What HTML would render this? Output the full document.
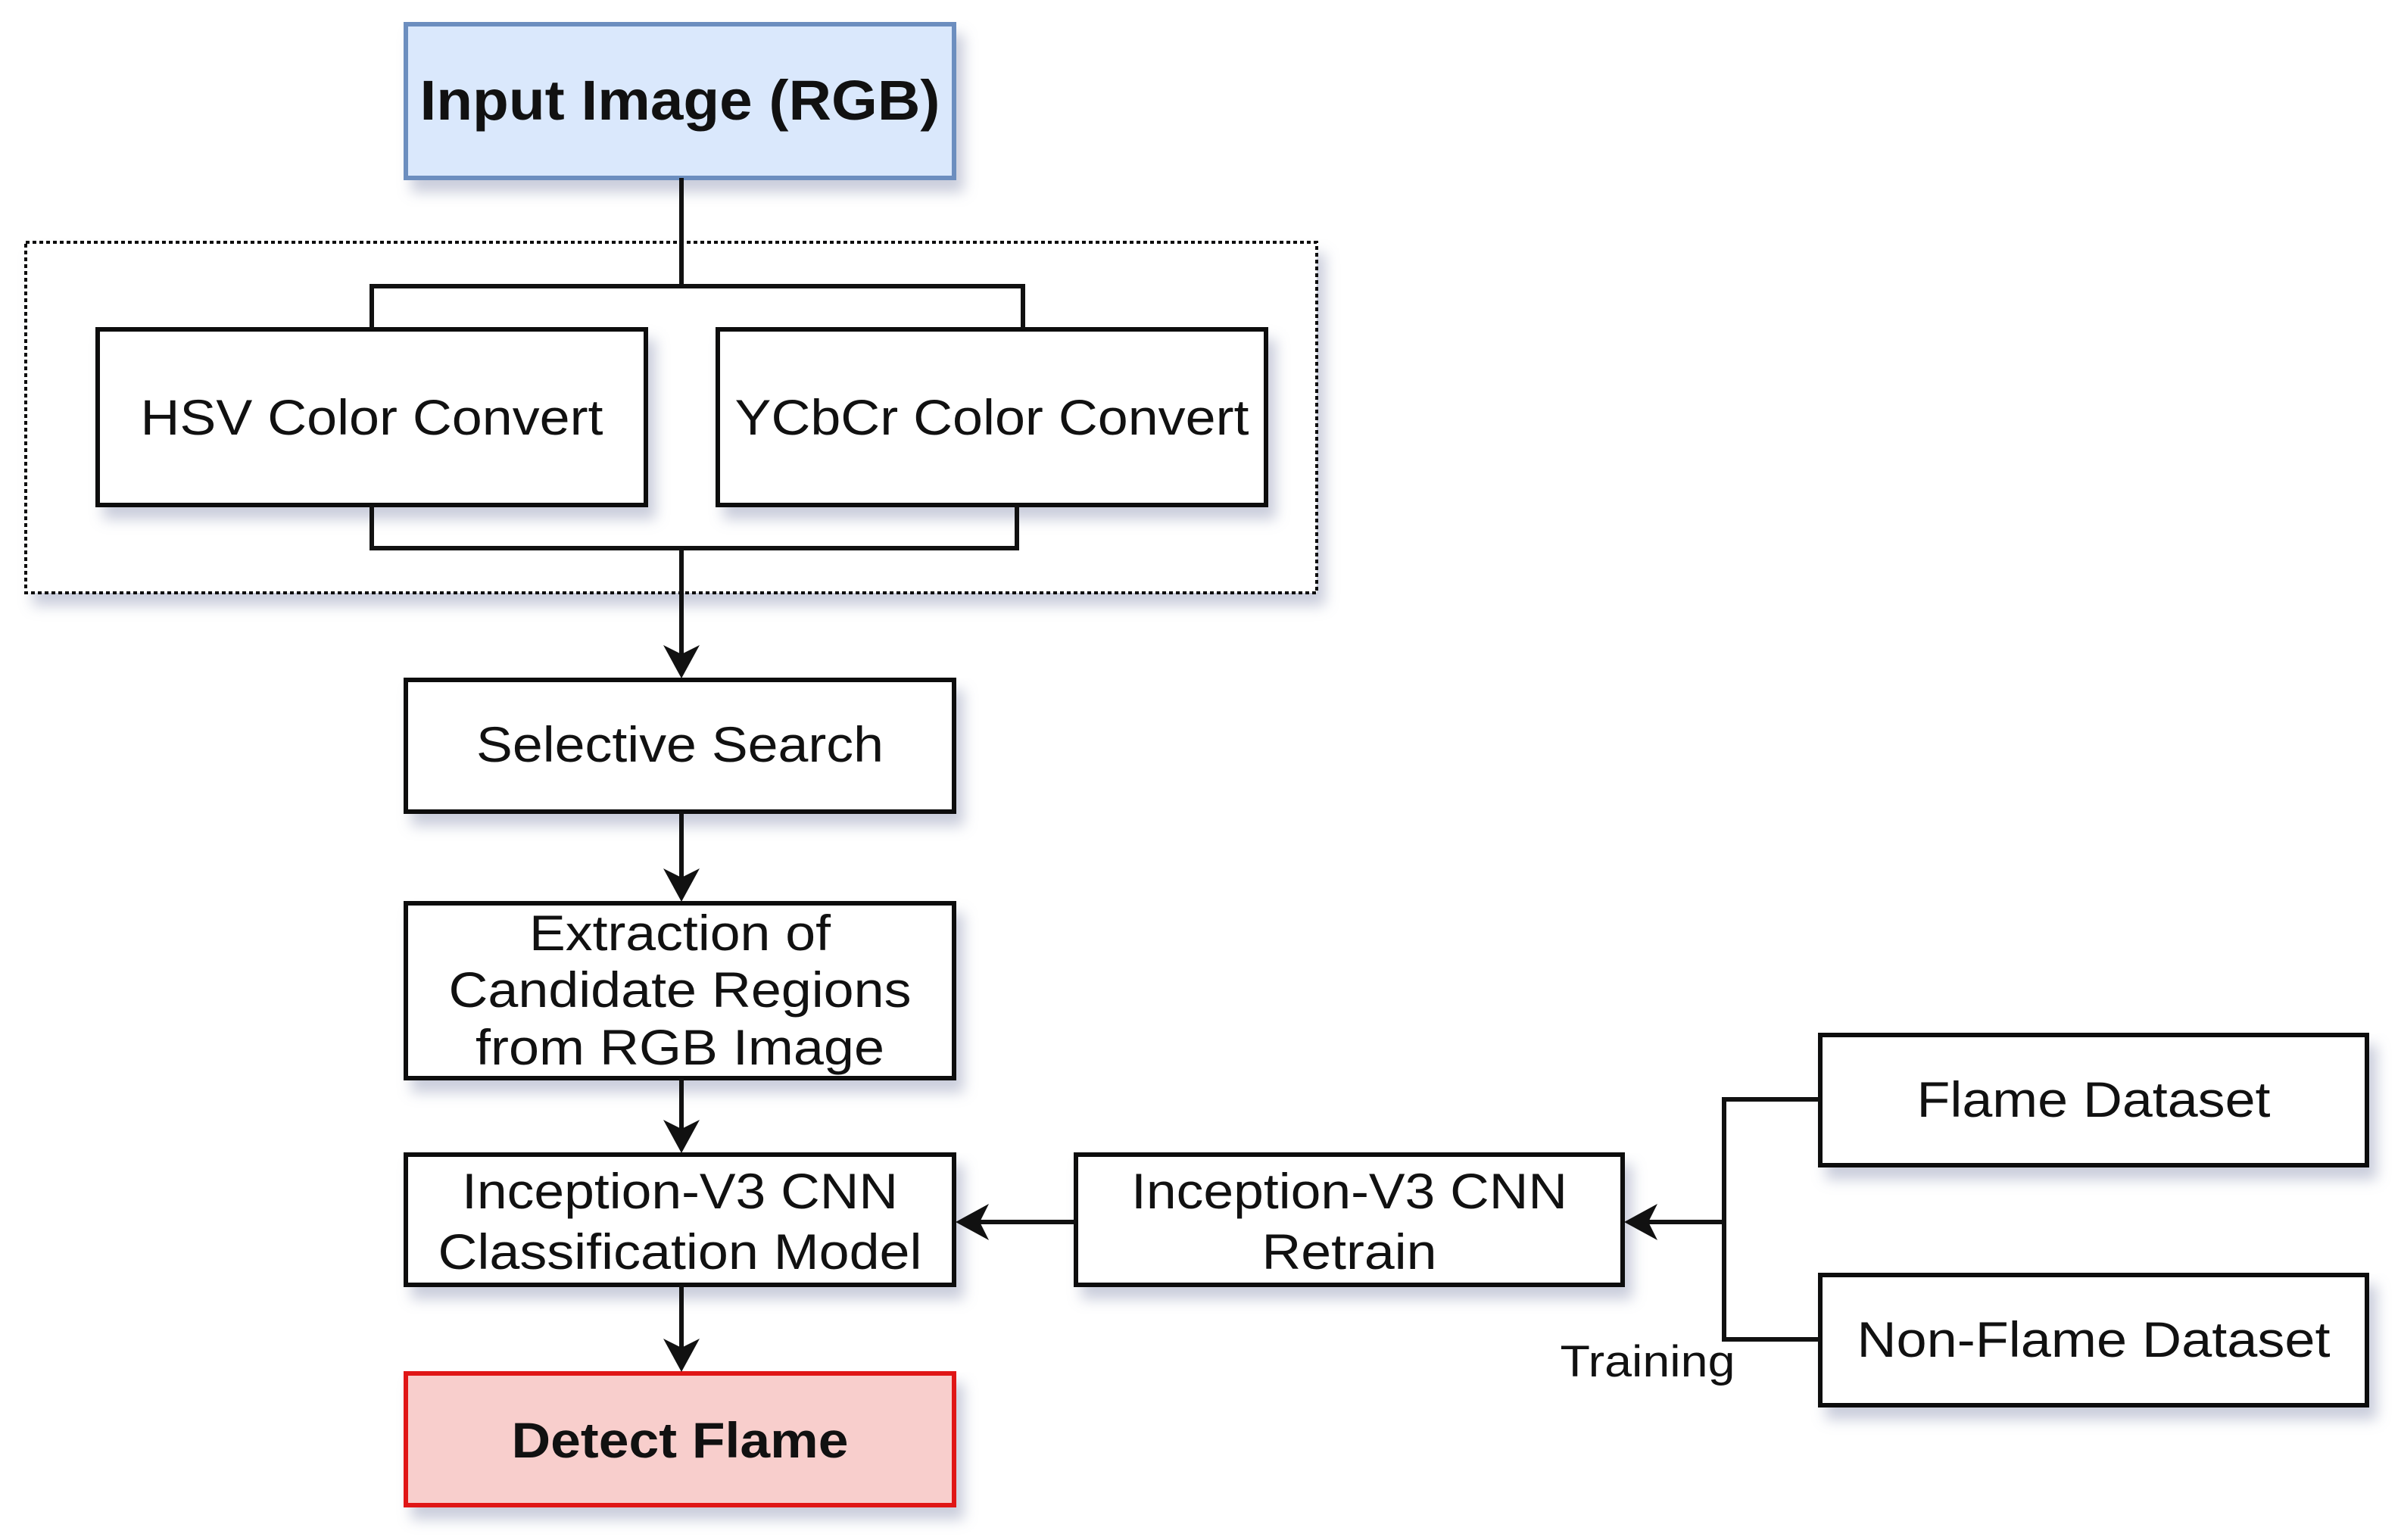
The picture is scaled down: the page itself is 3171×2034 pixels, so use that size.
<!DOCTYPE html>
<html><head><meta charset="utf-8"><style>
html,body{margin:0;padding:0;background:#fff;}
svg{display:block;}
text{font-family:"Liberation Sans",Arial,sans-serif;fill:#111;}
</style></head><body>
<svg width="3171" height="2034" viewBox="0 0 3171 2034" xmlns="http://www.w3.org/2000/svg">
<defs>
<filter id="sh" x="-10%" y="-10%" width="130%" height="140%">
<feGaussianBlur in="SourceAlpha" stdDeviation="9"/>
<feOffset dx="10" dy="16" result="b"/>
<feFlood flood-color="#8890b0" flood-opacity="0.45"/>
<feComposite in2="b" operator="in"/>
<feMerge><feMergeNode/><feMergeNode in="SourceGraphic"/></feMerge>
</filter>
</defs>
<g stroke="#111" stroke-width="6" fill="#fff">
<rect x="34" y="320" width="1705" height="463" stroke-dasharray="5,4" stroke-width="4" filter="url(#sh)"/>
<rect x="536" y="32" width="724" height="203" fill="#dae8fc" stroke="#6c8ebf" filter="url(#sh)"/>
<rect x="129" y="435" width="724" height="232" filter="url(#sh)"/>
<rect x="948" y="435" width="724" height="232" filter="url(#sh)"/>
<rect x="536" y="898" width="724" height="174" filter="url(#sh)"/>
<rect x="536" y="1193" width="724" height="231" filter="url(#sh)"/>
<rect x="536" y="1525" width="724" height="172" filter="url(#sh)"/>
<rect x="536" y="1814" width="724" height="174" fill="#f8cecc" stroke="#e01818" filter="url(#sh)"/>
<rect x="1421" y="1525" width="722" height="172" filter="url(#sh)"/>
<rect x="2404" y="1367" width="722" height="172" filter="url(#sh)"/>
<rect x="2404" y="1684" width="722" height="172" filter="url(#sh)"/>
</g>
<g stroke="#111" stroke-width="6" fill="none">
<path d="M900 235 V378 M491 435 V378 H1351 V435"/>
<path d="M491 667 V724 H1343 V667 M900 724 V870"/>
<path d="M900 1072 V1165 M900 1424 V1497 M900 1697 V1786"/>
<path d="M1421 1614 H1290"/>
<path d="M2404 1452 H2277 V1769 H2404 M2277 1614 H2173"/>
</g>
<g fill="#111">
<path d="M900 896 L876 852 L900 864 L924 852 Z"/>
<path d="M900 1191 L876 1147 L900 1159 L924 1147 Z"/>
<path d="M900 1523 L876 1479 L900 1491 L924 1479 Z"/>
<path d="M900 1812 L876 1768 L900 1780 L924 1768 Z"/>
<path d="M1262 1614 L1306 1590 L1294 1614 L1306 1638 Z"/>
<path d="M2145 1614 L2189 1590 L2177 1614 L2189 1638 Z"/>
</g>
<g font-size="66" text-anchor="middle" lengthAdjust="spacingAndGlyphs">
<text x="898" y="158" font-size="74" font-weight="bold" textLength="687" lengthAdjust="spacingAndGlyphs">Input Image (RGB)</text>
<text x="491" y="574" textLength="611" lengthAdjust="spacingAndGlyphs">HSV Color Convert</text>
<text x="1310" y="574" textLength="679" lengthAdjust="spacingAndGlyphs">YCbCr Color Convert</text>
<text x="898" y="1006" textLength="538" lengthAdjust="spacingAndGlyphs">Selective Search</text>
<text x="898" y="1255" textLength="398" lengthAdjust="spacingAndGlyphs">Extraction of</text>
<text x="898" y="1330" textLength="611" lengthAdjust="spacingAndGlyphs">Candidate Regions</text>
<text x="898" y="1406" textLength="540" lengthAdjust="spacingAndGlyphs">from RGB Image</text>
<text x="898" y="1596" textLength="576" lengthAdjust="spacingAndGlyphs">Inception-V3 CNN</text>
<text x="898" y="1676" textLength="639" lengthAdjust="spacingAndGlyphs">Classification Model</text>
<text x="898" y="1925" font-weight="bold" textLength="445" lengthAdjust="spacingAndGlyphs">Detect Flame</text>
<text x="1782" y="1596" textLength="576" lengthAdjust="spacingAndGlyphs">Inception-V3 CNN</text>
<text x="1782" y="1676" textLength="231" lengthAdjust="spacingAndGlyphs">Retrain</text>
<text x="2765" y="1475" textLength="467" lengthAdjust="spacingAndGlyphs">Flame Dataset</text>
<text x="2765" y="1792" textLength="625" lengthAdjust="spacingAndGlyphs">Non-Flame Dataset</text>
<text x="2176" y="1818" font-size="58" textLength="231" lengthAdjust="spacingAndGlyphs">Training</text>
</g>
</svg>
</body></html>
